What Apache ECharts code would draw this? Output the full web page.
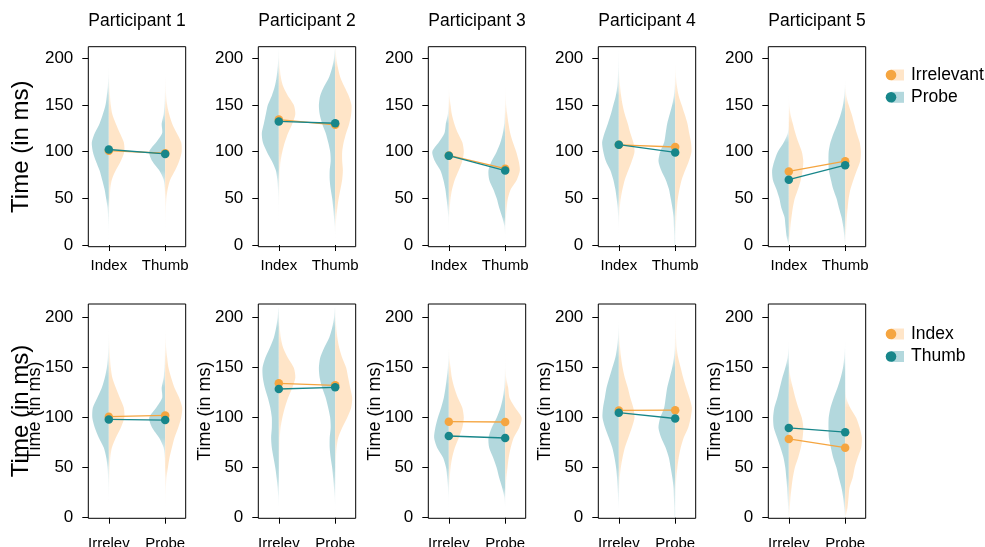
<!DOCTYPE html>
<html>
<head>
<meta charset="utf-8">
<script src="https://cdn.jsdelivr.net/npm/echarts@6/dist/echarts.min.js"></script>
<style>
html, body { margin: 0; padding: 0; background: #fff; }
#chart { width: 985px; height: 547px; }
</style>
</head>
<body>
<div id="chart"></div>
<script>
// y levels (ms) at which the violin half-widths were read
var levels = [0, 10, 20, 30, 40, 50, 60, 70, 80, 90, 100, 110, 120, 130, 140, 150, 160, 170, 180, 190, 200, 210];

// half-violin densities, II = Index/Irrelevant, IP = Index/Probe, TI = Thumb/Irrelevant, TP = Thumb/Probe
var p1_II = [0, 0, 0.1, 0.3, 0.6, 1, 1.5, 3, 7, 12, 15.5, 15, 11, 7, 3.5, 2, 1.2, 0.7, 0.3, 0.1, 0, 0];
var p1_IP = [0, 0.1, 0.3, 0.7, 1.3, 2.7, 4.3, 6.7, 9.3, 13, 16, 17, 14, 9.3, 6, 3.3, 2, 1, 0.4, 0.1, 0, 0];
var p1_TI = [0, 0, 0.2, 0.4, 0.7, 1.3, 2.5, 5, 10, 14, 16.5, 16, 11.5, 7, 4, 2, 1, 0.5, 0.2, 0, 0, 0];
var p1_TP = [0, 0, 0, 0, 0, 0.1, 0.5, 1.5, 6, 13, 16, 9, 3, 3.5, 1.5, 0.8, 0.4, 0.2, 0.1, 0, 0, 0];

var p2_II = [0, 0, 0, 0.1, 0.2, 0.4, 0.6, 0.8, 1, 1.8, 3.5, 6, 9.3, 13.5, 16.5, 15, 9, 4.3, 2, 1, 0.4, 0.1];
var p2_IP = [0, 0, 0, 0.1, 0.2, 0.4, 0.8, 1.5, 3, 7, 12, 16, 17, 15, 13, 11, 7, 4, 2.2, 1.2, 0.5, 0.2];
var p2_TI = [0, 0.1, 0.5, 1.2, 2.2, 3.5, 5.3, 7, 7.7, 7, 7, 8.5, 11, 14, 16, 16.3, 13.5, 9, 5, 2.7, 1.2, 0.4];
var p2_TP = [0, 0.1, 0.5, 1.2, 2, 3, 4.5, 5.5, 5.5, 4.5, 5, 7, 9.5, 13, 15.5, 16.3, 15, 11, 6, 3, 1.2, 0.4];

var p3_II = [0, 0, 0.1, 0.4, 1, 1.8, 3.3, 6, 10, 13.5, 15, 13.5, 9, 5.5, 3, 1.8, 0.6, 0.2, 0, 0, 0, 0];
var p3_IP = [0, 0.1, 0.2, 0.5, 1.3, 2.3, 3.5, 5.5, 8.5, 14, 16.5, 10, 4.3, 3, 1, 0.3, 0.1, 0, 0, 0, 0, 0];
var p3_TI = [0, 0.1, 0.3, 0.8, 1.6, 2.7, 5.7, 11.7, 14.7, 13.5, 11, 7.7, 5, 3.3, 2, 1, 0.4, 0.1, 0, 0, 0, 0];
var p3_TP = [0, 0.1, 0.8, 3, 6, 8.5, 12, 16, 16.7, 13.5, 8.5, 4.7, 2.3, 1, 0.5, 0.2, 0.1, 0, 0, 0, 0, 0];

var p4_II = [0, 0, 0.1, 0.5, 1, 2, 3.7, 6, 9.5, 13, 15.7, 14.5, 11.5, 9, 6, 3.8, 2.3, 1.3, 0.6, 0.2, 0, 0];
var p4_IP = [0, 0, 0.2, 0.6, 1.2, 2.2, 3.5, 5.5, 8.5, 13, 15.5, 16.7, 14.3, 11, 8, 5.5, 3, 1.5, 0.9, 0.5, 0.3, 0.1];
var p4_TI = [0, 0.2, 0.7, 1.2, 1.8, 2.7, 4.3, 6.5, 10, 13.7, 16.3, 15.8, 14, 12.3, 9.5, 6.5, 3.5, 1.8, 0.8, 0.3, 0, 0];
var p4_TP = [0.7, 0.9, 1.3, 1.7, 2.8, 4.5, 6.3, 9.5, 14, 16.7, 15, 11, 9.5, 8, 5.5, 3, 1.3, 0.5, 0.2, 0, 0, 0];

var p5_II = [0.3, 1, 1.7, 2.7, 4, 6, 9.3, 12, 13.8, 14.5, 13, 9.5, 6.5, 4, 1.7, 0.5, 0.1, 0, 0, 0, 0, 0];
var p5_IP = [0.3, 2.3, 3.3, 4.3, 7.5, 9.5, 12.5, 16, 16.7, 14.5, 11, 5, 1, 0.2, 0, 0, 0, 0, 0, 0, 0, 0];
var p5_TI = [0.2, 0.6, 1.2, 1.7, 2.5, 3.5, 5.3, 8.3, 11.7, 15, 15.7, 14.5, 11.5, 9, 6.5, 3.5, 1.2, 0.3, 0, 0, 0, 0];
var p5_TP = [0.2, 1, 2, 3.7, 6.3, 8.7, 12, 14.3, 16.3, 16.7, 16.5, 14.7, 11.5, 7.7, 4.5, 2.2, 1, 0.3, 0, 0, 0, 0];

// condition means (ms), one per participant
var meanII = [101, 134.4, 96, 107.3, 78.8];
var meanIP = [102.3, 132.4, 95.7, 107.5, 70];
var meanTI = [98.3, 128.7, 81.7, 105, 89.8];
var meanTP = [97.6, 130.4, 79.7, 99.2, 85.5];

var titles = ["Participant 1", "Participant 2", "Participant 3", "Participant 4", "Participant 5"];
var topLabels = ["Index", "Thumb"];
var bottomLabels = ["Irrelev", "Probe"];
var yTicks = [0, 50, 100, 150, 200];

(function () {
  var dens = [
    [p1_II, p1_IP, p1_TI, p1_TP],
    [p2_II, p2_IP, p2_TI, p2_TP],
    [p3_II, p3_IP, p3_TI, p3_TP],
    [p4_II, p4_IP, p4_TI, p4_TP],
    [p5_II, p5_IP, p5_TI, p5_TP]
  ];

  var ORANGE = "#F5A540", TEAL = "#17868A";
  var ORANGE_FILL = "#FFE5C8", TEAL_FILL = "#B3D8DD";
  var ORANGE_RGB = "255,229,200", TEAL_RGB = "179,216,221";
  var FONT = "'Liberation Sans', Arial, sans-serif";
  var widthScale = 0.01774;
  var yTop = levels[levels.length - 1];

  var chart = echarts.init(document.getElementById("chart"));
  var grids = [], xAxes = [], yAxes = [], series = [], graphics = [];

  // thin tails fade out like the original
  function fadeFill(rgb, d) {
    var stops = [];
    for (var k = levels.length - 1; k >= 0; k--) {
      var a = Math.min(1, d[k] / 2.5);
      stops.push({ offset: (yTop - levels[k]) / yTop, color: "rgba(" + rgb + "," + a.toFixed(3) + ")" });
    }
    return new echarts.graphic.LinearGradient(0, 0, 0, 1, stops);
  }

  function violins(gi, halves) {
    return {
      type: "custom",
      xAxisIndex: gi,
      yAxisIndex: gi,
      clip: true,
      silent: true,
      data: halves.map(function (h, i) { return [h.x, i]; }),
      renderItem: function (params, api) {
        var h = halves[params.dataIndex];
        var edge = [], centre = [];
        for (var k = 0; k < levels.length; k++) {
          edge.push(api.coord([h.x + h.side * h.d[k] * widthScale, levels[k]]));
          centre.push(api.coord([h.x, levels[k]]));
        }
        return {
          type: "polygon",
          shape: { points: edge.concat(centre.reverse()), smooth: 0.25 },
          style: { fill: fadeFill(h.rgb, h.d) }
        };
      }
    };
  }

  function meanLine(gi, pts, color) {
    return {
      type: "line",
      xAxisIndex: gi,
      yAxisIndex: gi,
      data: pts,
      symbol: "circle",
      symbolSize: 8.5,
      silent: true,
      z: 5,
      lineStyle: { color: color, width: 1.3 },
      itemStyle: { color: color }
    };
  }

  for (var row = 0; row < 2; row++) {
    for (var p = 0; p < 5; p++) {
      var gi = row * 5 + p;
      var gLeft = 88.3 + 170 * p;
      var gTop = row === 0 ? 46.7 : 304;
      var gH = row === 0 ? 200 : 214.3;
      grids.push({
        left: gLeft, top: gTop, width: 97.4, height: gH,
        outerBoundsMode: "none", containLabel: false,
        show: true, borderColor: "#000", borderWidth: 1, backgroundColor: "transparent"
      });

      var labs = row === 0 ? topLabels : bottomLabels;
      xAxes.push({
        type: "value", gridIndex: gi, min: 0.636, max: 2.364,
        axisLine: { show: false },
        splitLine: { show: false },
        axisTick: { show: true, customValues: [1, 2], length: 6, lineStyle: { color: "#000" } },
        axisLabel: {
          customValues: [1, 2], margin: row === 0 ? 12 : 18, fontSize: 15, color: "#000", fontFamily: FONT,
          formatter: (function (l) { return function (v) { return l[Math.round(v) - 1]; }; })(labs)
        }
      });
      yAxes.push({
        type: "value", gridIndex: gi,
        min: row === 0 ? -1.8 : -0.6,
        max: row === 0 ? 212.4 : 213.7,
        axisLine: { show: false },
        splitLine: { show: false },
        axisTick: { show: true, customValues: yTicks, length: 6, lineStyle: { color: "#000" } },
        axisLabel: { customValues: yTicks, margin: 15, fontSize: 17, color: "#000", fontFamily: FONT }
      });

      var d = dens[p];
      var halves, orangePts, tealPts;
      if (row === 0) {
        halves = [
          { x: 1, side: -1, d: d[1], rgb: TEAL_RGB },
          { x: 1, side: 1, d: d[0], rgb: ORANGE_RGB },
          { x: 2, side: -1, d: d[3], rgb: TEAL_RGB },
          { x: 2, side: 1, d: d[2], rgb: ORANGE_RGB }
        ];
        orangePts = [[1, meanII[p]], [2, meanTI[p]]];
        tealPts = [[1, meanIP[p]], [2, meanTP[p]]];
      } else {
        halves = [
          { x: 1, side: -1, d: d[2], rgb: TEAL_RGB },
          { x: 1, side: 1, d: d[0], rgb: ORANGE_RGB },
          { x: 2, side: -1, d: d[3], rgb: TEAL_RGB },
          { x: 2, side: 1, d: d[1], rgb: ORANGE_RGB }
        ];
        orangePts = [[1, meanII[p]], [2, meanIP[p]]];
        tealPts = [[1, meanTI[p]], [2, meanTP[p]]];
      }
      series.push(violins(gi, halves));
      series.push(meanLine(gi, orangePts, ORANGE));
      series.push(meanLine(gi, tealPts, TEAL));

      if (row === 0) {
        graphics.push({ type: "text", x: gLeft + 48.7, y: 21, style: { text: titles[p], font: "17.5px " + FONT, fill: "#000", align: "center", verticalAlign: "middle" } });
      } else {
        graphics.push({ type: "text", x: gLeft - 53, y: gTop + gH / 2, rotation: Math.PI / 2, style: { text: "Time (in ms)", font: "18px " + FONT, fill: "#000", align: "center", verticalAlign: "middle" } });
      }
    }
  }

  // big row labels
  graphics.push({ type: "text", x: 21, y: 146.7, rotation: Math.PI / 2, style: { text: "Time (in ms)", font: "24px " + FONT, fill: "#000", align: "center", verticalAlign: "middle" } });
  graphics.push({ type: "text", x: 21, y: 411, rotation: Math.PI / 2, style: { text: "Time (in ms)", font: "24px " + FONT, fill: "#000", align: "center", verticalAlign: "middle" } });

  // legends
  function legendRow(y, label, color, fill) {
    graphics.push({ type: "rect", shape: { x: 891, y: y - 5.5, width: 13, height: 11 }, style: { fill: fill } });
    graphics.push({ type: "circle", shape: { cx: 891, cy: y, r: 5.3 }, style: { fill: color } });
    graphics.push({ type: "text", x: 911, y: y, style: { text: label, font: "17.5px " + FONT, fill: "#000", verticalAlign: "middle" } });
  }
  legendRow(75, "Irrelevant", ORANGE, ORANGE_FILL);
  legendRow(97.3, "Probe", TEAL, TEAL_FILL);
  legendRow(334, "Index", ORANGE, ORANGE_FILL);
  legendRow(356.5, "Thumb", TEAL, TEAL_FILL);

  chart.setOption({
    animation: false,
    grid: grids,
    xAxis: xAxes,
    yAxis: yAxes,
    series: series,
    graphic: graphics
  });
})();
</script>
</body>
</html>
